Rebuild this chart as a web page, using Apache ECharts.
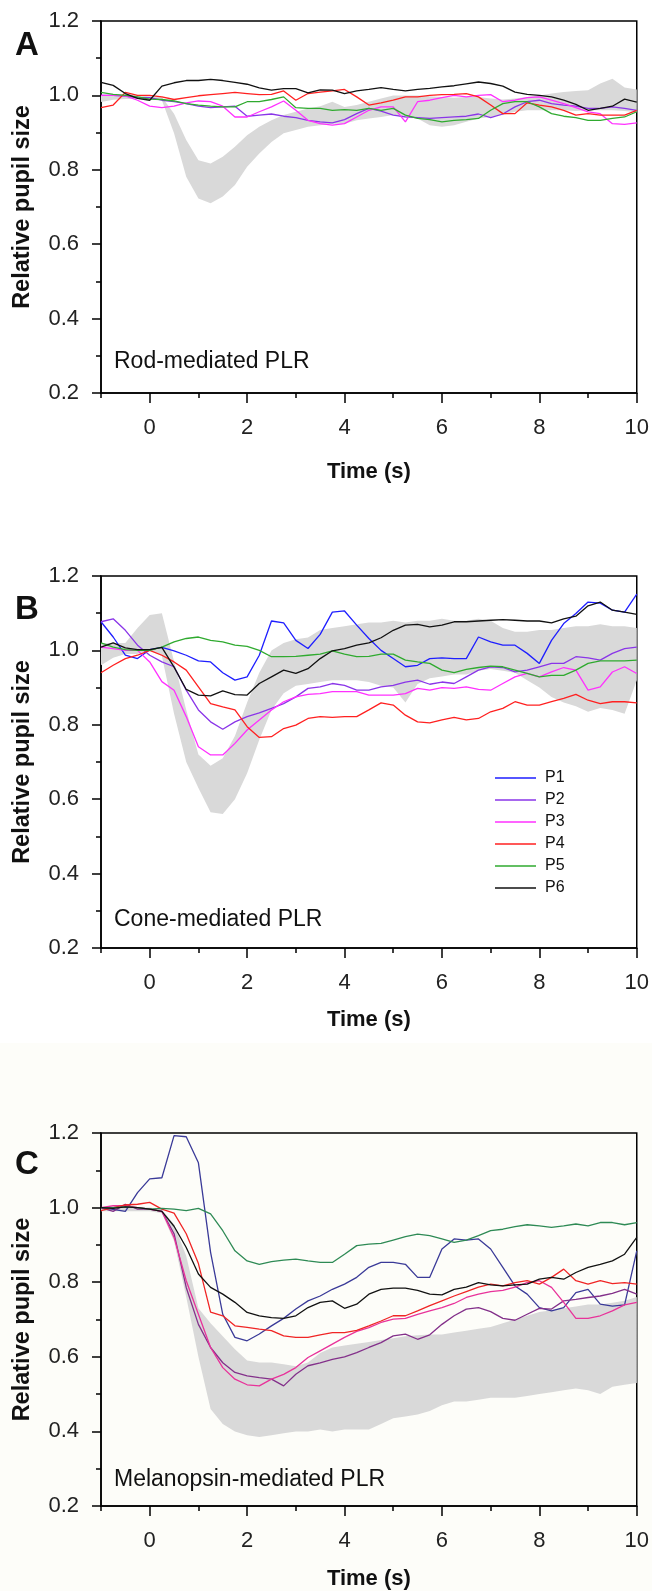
<!DOCTYPE html>
<html>
<head>
<meta charset="utf-8">
<script src="https://cdn.jsdelivr.net/npm/echarts@6/dist/echarts.min.js"></script>
<style>
html, body { margin: 0; padding: 0; background: #fff; }
#main { width: 652px; height: 1591px; }
</style>
</head>
<body>
<div id="main"></div>
<script>
// time axis (s), shared by every trace
var time = [-1,-0.75,-0.5,-0.25,0,0.25,0.5,0.75,1,1.25,1.5,1.75,2,2.25,2.5,2.75,3,3.25,3.5,3.75,4,4.25,4.5,4.75,5,5.25,5.5,5.75,6,6.25,6.5,6.75,7,7.25,7.5,7.75,8,8.25,8.5,8.75,9,9.25,9.5,9.75,10];
var xLabels = [0, 2, 4, 6, 8, 10];
var xMinor = [-1, 1, 3, 5, 7, 9];
var names = ['P1', 'P2', 'P3', 'P4', 'P5', 'P6'];

// A - rod-mediated PLR (normal range + patients)
var rodUpper = [1.0,1.002,1.003,1.0,0.998,0.996,0.951,0.88,0.826,0.817,0.835,0.862,0.893,0.916,0.933,0.947,0.956,0.965,0.971,0.983,0.969,0.974,0.983,0.992,1.0,1.0,1.0,0.998,0.996,0.994,0.996,0.996,0.992,0.989,0.992,0.996,1.0,1.005,1.009,1.012,1.014,1.032,1.045,1.021,1.016];
var rodLower = [0.982,0.988,0.99,0.99,0.99,0.987,0.898,0.781,0.723,0.71,0.728,0.759,0.808,0.844,0.875,0.898,0.907,0.916,0.92,0.924,0.924,0.933,0.938,0.942,0.947,0.94,0.938,0.92,0.916,0.92,0.929,0.938,0.942,0.947,0.956,0.96,0.96,0.96,0.96,0.958,0.96,0.96,0.96,0.958,0.955];
var rodP2 = [1.0,1.0,0.998,0.994,0.994,0.987,0.983,0.978,0.971,0.967,0.969,0.971,0.944,0.947,0.95,0.944,0.94,0.933,0.929,0.926,0.935,0.951,0.965,0.958,0.947,0.942,0.94,0.938,0.94,0.942,0.944,0.95,0.94,0.95,0.969,0.983,0.987,0.978,0.974,0.971,0.965,0.965,0.969,0.965,0.96];
var rodP3 = [1.0,1.0,0.999,0.987,0.971,0.967,0.971,0.98,0.985,0.983,0.971,0.942,0.942,0.956,0.969,0.985,0.96,0.933,0.924,0.92,0.924,0.942,0.96,0.969,0.969,0.929,0.983,0.987,0.994,1.0,0.996,1.0,1.002,0.983,0.987,0.994,0.996,0.987,0.978,0.967,0.956,0.951,0.924,0.922,0.926];
var rodP4 = [0.967,0.974,1.008,1.0,1.0,0.996,0.989,0.994,0.999,1.002,1.005,1.008,1.005,1.002,1.003,1.012,0.987,1.005,1.009,1.012,1.016,0.996,0.974,0.98,0.987,0.996,0.996,1.0,1.002,1.003,1.005,0.996,0.974,0.951,0.951,0.98,0.974,0.969,0.96,0.947,0.951,0.947,0.947,0.947,0.96];
var rodP5 = [1.008,1.003,1.0,0.996,0.99,0.989,0.985,0.978,0.974,0.971,0.969,0.969,0.983,0.983,0.989,0.996,0.967,0.965,0.965,0.96,0.962,0.96,0.965,0.96,0.965,0.947,0.938,0.935,0.929,0.933,0.935,0.938,0.96,0.978,0.983,0.983,0.969,0.951,0.944,0.94,0.933,0.933,0.938,0.942,0.956];
var rodP6 = [1.035,1.027,1.005,0.992,0.987,1.025,1.034,1.04,1.04,1.043,1.04,1.035,1.03,1.02,1.014,1.018,1.018,1.007,1.015,1.014,1.005,1.012,1.016,1.021,1.016,1.012,1.016,1.019,1.023,1.026,1.031,1.036,1.032,1.025,1.009,1.003,1.0,0.996,0.987,0.976,0.96,0.965,0.971,0.99,0.982];

// B - cone-mediated PLR
var coneUpper = [1.02,1.02,1.02,1.06,1.095,1.1,0.97,0.84,0.72,0.69,0.71,0.77,0.86,0.94,1.0,1.02,1.03,1.035,1.055,1.06,1.065,1.07,1.075,1.075,1.08,1.075,1.08,1.08,1.085,1.08,1.08,1.085,1.08,1.06,1.05,1.05,1.055,1.055,1.06,1.065,1.065,1.07,1.065,1.065,1.06];
var coneLower = [0.96,0.98,0.99,0.99,1.0,0.985,0.83,0.70,0.63,0.565,0.56,0.60,0.67,0.76,0.84,0.885,0.905,0.91,0.915,0.92,0.92,0.92,0.915,0.905,0.90,0.86,0.91,0.925,0.93,0.935,0.935,0.945,0.95,0.945,0.94,0.92,0.90,0.875,0.86,0.85,0.835,0.845,0.84,0.83,0.92];
var coneP1 = [1.077,1.036,0.987,0.978,1.002,1.008,0.999,0.987,0.972,0.969,0.94,0.92,0.929,0.987,1.079,1.074,1.027,1.005,1.043,1.103,1.106,1.068,1.032,1.0,0.978,0.956,0.96,0.978,0.98,0.978,0.978,1.036,1.023,1.014,1.014,0.992,0.965,1.027,1.072,1.099,1.13,1.127,1.108,1.103,1.151];
var coneP2 = [1.077,1.085,1.054,1.014,0.987,0.969,0.956,0.893,0.84,0.808,0.788,0.808,0.822,0.832,0.844,0.857,0.875,0.898,0.902,0.911,0.906,0.893,0.893,0.902,0.906,0.915,0.92,0.909,0.915,0.911,0.929,0.947,0.956,0.954,0.942,0.947,0.956,0.965,0.965,0.983,0.98,0.974,0.992,1.005,1.009];
var coneP3 = [1.009,1.005,1.0,1.0,0.969,0.916,0.893,0.822,0.741,0.719,0.719,0.75,0.786,0.813,0.84,0.862,0.875,0.882,0.884,0.889,0.889,0.889,0.88,0.88,0.88,0.884,0.898,0.893,0.9,0.898,0.902,0.895,0.893,0.911,0.929,0.938,0.929,0.942,0.954,0.947,0.893,0.902,0.942,0.956,0.938];
var coneP4 = [0.94,0.96,0.978,0.987,1.0,0.987,0.969,0.947,0.902,0.857,0.848,0.84,0.795,0.766,0.768,0.79,0.799,0.817,0.822,0.82,0.822,0.822,0.84,0.859,0.853,0.826,0.808,0.805,0.813,0.82,0.813,0.817,0.835,0.844,0.862,0.853,0.853,0.862,0.871,0.882,0.866,0.857,0.862,0.862,0.859];
var coneP5 = [1.02,1.009,1.002,1.0,1.0,1.009,1.023,1.032,1.036,1.027,1.023,1.014,1.011,1.0,0.983,0.983,0.984,0.987,0.99,0.999,0.99,0.983,0.984,0.99,0.99,0.974,0.969,0.965,0.947,0.94,0.949,0.954,0.958,0.956,0.947,0.938,0.929,0.933,0.933,0.947,0.965,0.972,0.972,0.972,0.974];
var coneP6 = [1.009,1.02,1.007,1.002,1.002,1.008,0.955,0.895,0.88,0.878,0.891,0.881,0.88,0.911,0.929,0.947,0.938,0.951,0.978,0.999,1.005,1.014,1.02,1.034,1.054,1.068,1.07,1.063,1.068,1.077,1.077,1.079,1.081,1.083,1.081,1.079,1.079,1.074,1.085,1.092,1.12,1.13,1.108,1.103,1.097];

// C - melanopsin-mediated PLR
var melUpper = [1.0,1.0,1.0,1.0,1.0,0.995,0.955,0.87,0.73,0.69,0.655,0.62,0.59,0.585,0.585,0.58,0.575,0.585,0.61,0.625,0.63,0.635,0.64,0.645,0.65,0.655,0.658,0.66,0.66,0.665,0.67,0.675,0.68,0.69,0.70,0.71,0.72,0.725,0.73,0.735,0.74,0.74,0.745,0.75,0.76];
var melLower = [0.99,0.99,0.99,0.99,0.99,0.985,0.91,0.76,0.60,0.46,0.42,0.40,0.39,0.385,0.39,0.395,0.40,0.40,0.405,0.40,0.405,0.405,0.405,0.42,0.435,0.44,0.445,0.455,0.47,0.48,0.48,0.485,0.49,0.49,0.49,0.495,0.50,0.505,0.51,0.515,0.51,0.50,0.52,0.525,0.53];
var melP1 = [1.0,0.995,0.99,1.04,1.077,1.08,1.193,1.19,1.12,0.88,0.714,0.652,0.643,0.661,0.683,0.703,0.728,0.75,0.763,0.781,0.795,0.813,0.84,0.853,0.853,0.848,0.813,0.813,0.889,0.916,0.913,0.916,0.889,0.84,0.79,0.768,0.732,0.723,0.732,0.772,0.781,0.741,0.736,0.739,0.884];
var melP2 = [1.0,0.99,1.009,0.996,0.996,0.99,0.93,0.786,0.687,0.625,0.584,0.558,0.549,0.544,0.54,0.522,0.553,0.576,0.584,0.593,0.6,0.611,0.625,0.638,0.656,0.661,0.647,0.659,0.687,0.71,0.728,0.732,0.721,0.703,0.698,0.714,0.73,0.728,0.75,0.754,0.759,0.763,0.77,0.781,0.768];
var melP3 = [1.0,1.005,1.005,1.0,0.996,0.99,0.92,0.804,0.714,0.625,0.571,0.54,0.525,0.522,0.54,0.553,0.571,0.598,0.616,0.634,0.652,0.668,0.678,0.692,0.701,0.703,0.714,0.723,0.732,0.743,0.759,0.768,0.775,0.778,0.787,0.799,0.804,0.786,0.746,0.703,0.703,0.71,0.723,0.739,0.746];
var melP4 = [0.992,1.0,1.007,1.009,1.014,0.996,0.985,0.93,0.85,0.72,0.71,0.683,0.679,0.674,0.67,0.656,0.652,0.652,0.659,0.665,0.665,0.671,0.683,0.696,0.71,0.71,0.723,0.737,0.75,0.763,0.775,0.787,0.795,0.79,0.799,0.804,0.795,0.813,0.835,0.804,0.795,0.804,0.796,0.799,0.795];
var melP5 = [1.0,1.0,1.002,1.0,0.996,0.998,0.996,0.992,0.998,0.983,0.938,0.884,0.857,0.848,0.855,0.859,0.862,0.857,0.853,0.853,0.875,0.898,0.902,0.904,0.913,0.922,0.929,0.925,0.916,0.907,0.913,0.925,0.938,0.942,0.949,0.954,0.951,0.947,0.951,0.956,0.951,0.96,0.96,0.954,0.96];
var melP6 = [1.0,0.998,1.002,1.0,0.996,0.99,0.95,0.893,0.822,0.786,0.768,0.746,0.719,0.71,0.705,0.703,0.71,0.732,0.746,0.75,0.73,0.741,0.768,0.781,0.784,0.784,0.778,0.768,0.766,0.781,0.787,0.799,0.793,0.79,0.793,0.795,0.808,0.813,0.808,0.826,0.84,0.848,0.857,0.875,0.92];

var colorsAB = ['#1e1eff', '#8a35e8', '#ff30ff', '#ff2020', '#2faa2f', '#111111'];
var colorsC = ['#3a3a98', '#83308a', '#e8329a', '#f02525', '#2e8a55', '#111111'];

var font = 'Liberation Sans, Arial, sans-serif';

function pairs(ys) {
	return time.map(function(t, i) { return [t, ys[i]]; });
}

var myChart = echarts.init(document.getElementById('main'));

var grids = [
	{ left: 101, top: 21, width: 536, height: 372 },
	{ left: 101, top: 576, width: 536, height: 372 },
	{ left: 101, top: 1133, width: 536, height: 373 }
];
grids.forEach(function(g) {
	g.show = true;
	g.borderColor = '#000';
	g.borderWidth = 1.5;
	g.backgroundColor = 'transparent';
});

var xAxes = [], yAxes = [];
var timeGaps = [68, 61, 62];
for (var i = 0; i < 3; i++) {
	// main axis: line, long ticks and labels at even seconds
	xAxes.push({
		type: 'value', gridIndex: i, position: 'bottom', min: -1, max: 10, interval: 1,
		axisLine: { onZero: false, lineStyle: { color: '#000', width: 1.5 } },
		axisTick: { customValues: xLabels, length: 10, lineStyle: { color: '#000', width: 1.5 } },
		axisLabel: { customValues: xLabels, fontSize: 22, margin: 24, color: '#222', fontFamily: font },
		splitLine: { show: false },
		name: 'Time (s)', nameLocation: 'middle', nameGap: timeGaps[i],
		nameTextStyle: { fontSize: 22, fontWeight: 'bold', color: '#111', fontFamily: font }
	});
	// short ticks at odd seconds
	xAxes.push({
		type: 'value', gridIndex: i, position: 'bottom', min: -1, max: 10, interval: 1,
		axisLine: { show: false, onZero: false },
		axisTick: { customValues: xMinor, length: 5, lineStyle: { color: '#000', width: 1.5 } },
		axisLabel: { show: false },
		splitLine: { show: false }
	});
	yAxes.push({
		type: 'value', gridIndex: i, position: 'left', min: 0.2, max: 1.2, interval: 0.2,
		axisLine: { onZero: false, lineStyle: { color: '#000', width: 1.5 } },
		axisTick: { length: 9, lineStyle: { color: '#000', width: 1.5 } },
		minorTick: { show: true, splitNumber: 2, length: 5, lineStyle: { color: '#000', width: 1.5 } },
		axisLabel: {
			fontSize: 22, margin: 22, color: '#222', fontFamily: font,
			formatter: function(v) { return v.toFixed(1); }
		},
		splitLine: { show: false },
		name: 'Relative pupil size', nameLocation: 'middle', nameGap: 66, nameRotate: 90,
		nameTextStyle: { fontSize: 23.5, fontWeight: 'bold', color: '#111', fontFamily: font }
	});
}

var series = [];

// grey normal range: one polygon, upper edge forward then lower edge back
function addBand(panel, lower, upper) {
	series.push({
		type: 'custom', xAxisIndex: panel * 2, yAxisIndex: panel, silent: true,
		data: time.map(function(t, i) { return [t, lower[i], upper[i]]; }),
		encode: { x: 0, y: [1, 2] },
		renderItem: function(params, api) {
			if (params.dataIndex !== 0) return;
			var pts = [];
			for (var i = 0; i < time.length; i++) pts.push(api.coord([time[i], upper[i]]));
			for (var j = time.length - 1; j >= 0; j--) pts.push(api.coord([time[j], lower[j]]));
			return { type: 'polygon', shape: { points: pts }, style: { fill: '#d9d9d9' } };
		}
	});
}

function addLine(panel, name, ys, color) {
	series.push({
		name: name, type: 'line', xAxisIndex: panel * 2, yAxisIndex: panel,
		data: pairs(ys), symbol: 'none', silent: true,
		lineStyle: { color: color, width: 1.3 }, itemStyle: { color: color }
	});
}

// panel A
addBand(0, rodLower, rodUpper);
var rodLines = [null, rodP2, rodP3, rodP4, rodP5, rodP6];
rodLines.forEach(function(ys, k) {
	if (ys) addLine(0, 'A ' + names[k], ys, colorsAB[k]);
});

// panel B
addBand(1, coneLower, coneUpper);
[coneP1, coneP2, coneP3, coneP4, coneP5, coneP6].forEach(function(ys, k) {
	addLine(1, names[k], ys, colorsAB[k]);
});

// panel C
addBand(2, melLower, melUpper);
[melP1, melP2, melP3, melP4, melP5, melP6].forEach(function(ys, k) {
	addLine(2, 'C ' + names[k], ys, colorsC[k]);
});

function txt(x, y, s, f) {
	return {
		type: 'text', x: x, y: y, silent: true, z: 10,
		style: { text: s, font: f, fill: '#111', align: x < 60 ? 'center' : 'left', verticalAlign: 'middle' }
	};
}

option = {
	backgroundColor: '#fff',
	animation: false,
	grid: grids,
	xAxis: xAxes,
	yAxis: yAxes,
	legend: {
		data: names, orient: 'vertical', left: 495, top: 770, padding: 0,
		icon: 'rect', itemWidth: 41, itemHeight: 1.5, itemGap: 6,
		textStyle: { fontSize: 16, lineHeight: 16, color: '#111', fontFamily: font, padding: [0, 0, 0, 4] }
	},
	graphic: [
		// the bottom panel sits on a faintly cream page
		{ type: 'rect', z: -100, silent: true, shape: { x: 0, y: 1043, width: 652, height: 548 }, style: { fill: '#fdfdf9' } },
		txt(27, 46, 'A', 'bold 33px ' + font),
		txt(27, 610, 'B', 'bold 33px ' + font),
		txt(27, 1165, 'C', 'bold 33px ' + font),
		txt(114, 362, 'Rod-mediated PLR', '23px ' + font),
		txt(114, 920, 'Cone-mediated PLR', '23px ' + font),
		txt(114, 1480, 'Melanopsin-mediated PLR', '23px ' + font)
	],
	series: series
};

myChart.setOption(option);
</script>
</body>
</html>
